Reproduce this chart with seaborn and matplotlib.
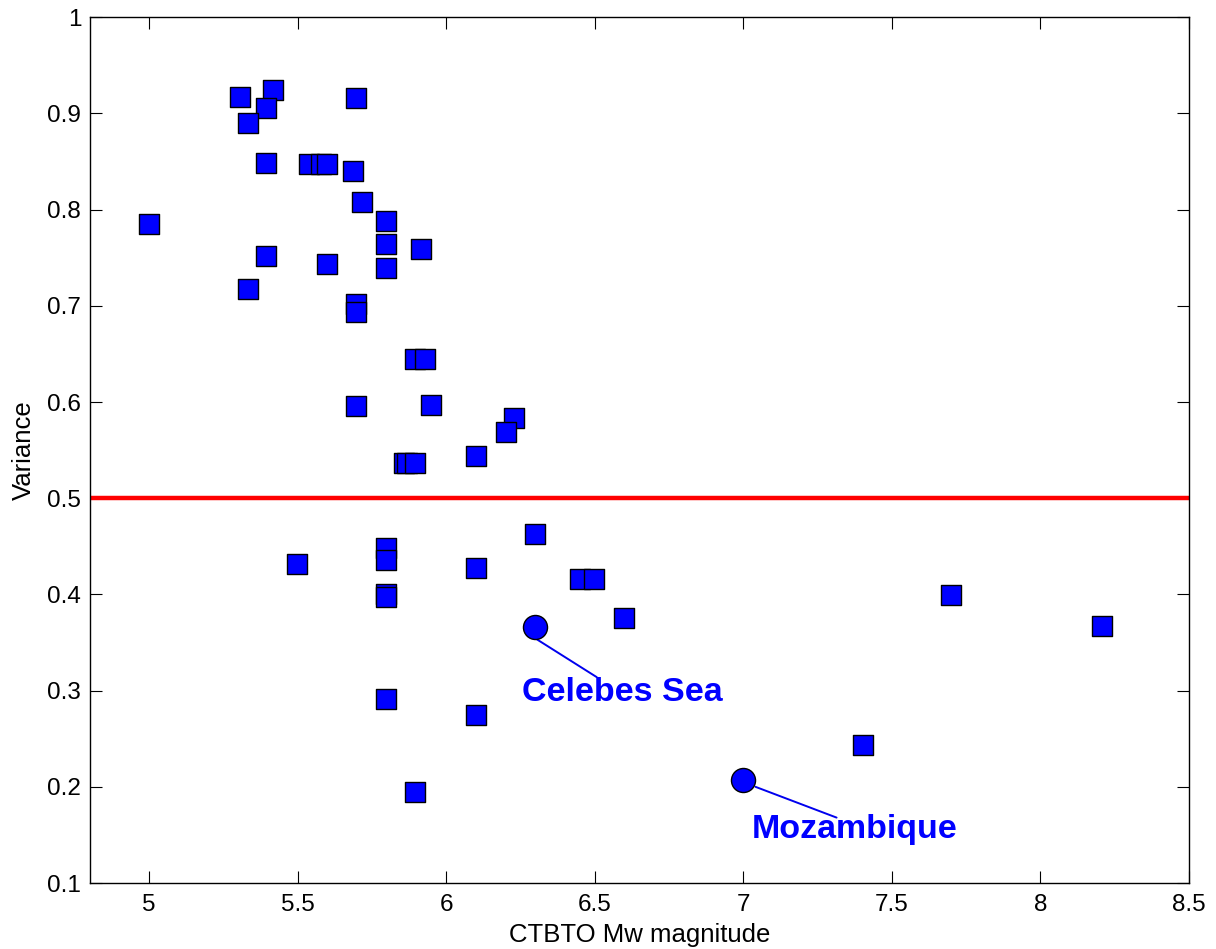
import matplotlib
matplotlib.use("Agg")
import matplotlib.pyplot as plt
import seaborn as sns
import pandas as pd

# ---- data ----
square_mag = [5.306, 5.418, 5.394, 5.334, 5.697, 5.394, 5.537, 5.578, 5.598, 5.686,
              5.717, 5.797, 5.0, 5.797, 5.917, 5.394, 5.598, 5.797, 5.334, 5.697,
              5.697, 5.896, 5.930, 5.697, 5.949, 6.227, 6.200, 6.099, 5.857, 5.869,
              5.897, 6.300, 5.498, 5.797, 5.797, 5.797, 5.797, 6.100, 6.450, 6.499,
              6.599, 5.797, 6.100, 5.896, 7.70, 8.206, 7.402]
square_var = [0.917, 0.924, 0.906, 0.890, 0.916, 0.849, 0.847, 0.847, 0.847, 0.840,
              0.808, 0.788, 0.785, 0.764, 0.759, 0.752, 0.744, 0.739, 0.718, 0.702,
              0.694, 0.645, 0.645, 0.596, 0.597, 0.583, 0.569, 0.544, 0.537, 0.537,
              0.537, 0.463, 0.432, 0.448, 0.436, 0.400, 0.397, 0.428, 0.416, 0.416,
              0.375, 0.291, 0.275, 0.195, 0.399, 0.367, 0.243]

circle_names = ["Celebes Sea", "Mozambique"]
circle_mag = [6.3, 7.0]
circle_var = [0.366, 0.207]
# annotation: text anchor (left, centre) and leader line endpoints
label_x = [6.257, 7.030]
label_y = [0.298, 0.156]
line_start_x = [6.307, 7.041]
line_start_y = [0.353, 0.200]
line_end_x = [6.507, 7.314]
line_end_y = [0.314, 0.168]

threshold = 0.5

x_ticks = [5, 5.5, 6, 6.5, 7, 7.5, 8, 8.5]
x_tick_labels = ["5", "5.5", "6", "6.5", "7", "7.5", "8", "8.5"]
y_ticks = [0.1, 0.2, 0.3, 0.4, 0.5, 0.6, 0.7, 0.8, 0.9, 1.0]
y_tick_labels = ["0.1", "0.2", "0.3", "0.4", "0.5", "0.6", "0.7", "0.8", "0.9", "1"]

sq = pd.DataFrame({"mag": square_mag, "var": square_var})
ci = pd.DataFrame({"mag": circle_mag, "var": circle_var})

sns.set_style("ticks")
plt.rcParams["font.family"] = ["Liberation Sans", "DejaVu Sans"]

fig = plt.figure(figsize=(12.16, 9.49), dpi=100)
ax = fig.add_axes([89.5 / 1216, 66 / 949, (1189 - 89.5) / 1216, (883 - 17.3) / 949])

ax.axhline(threshold, color="#FF0000", lw=3.2, zorder=1)

sns.scatterplot(data=sq, x="mag", y="var", marker="s", s=195, color="#0000FF",
                edgecolor="black", linewidth=1.0, ax=ax, zorder=3, legend=False)
sns.scatterplot(data=ci, x="mag", y="var", marker="o", s=300, color="#0000FF",
                edgecolor="black", linewidth=1.0, ax=ax, zorder=4, legend=False)

for i, name in enumerate(circle_names):
    ax.plot([line_start_x[i], line_end_x[i]], [line_start_y[i], line_end_y[i]],
            color="#0000EE", lw=1.4, zorder=2)
    ax.text(label_x[i], label_y[i], name, color="#0000FF", fontsize=24.5,
            fontweight="bold", ha="left", va="center")

ax.set_xlim(4.8, 8.5)
ax.set_ylim(0.1, 1.0)
ax.set_xticks(x_ticks)
ax.set_xticklabels(x_tick_labels)
ax.set_yticks(y_ticks)
ax.set_yticklabels(y_tick_labels)

ax.tick_params(direction="in", length=8.5, width=0.8, labelsize=17.5, colors="black",
               labelcolor="black", top=True, right=True)
ax.tick_params(axis="x", pad=8)
ax.tick_params(axis="y", pad=6)
for sp in ax.spines.values():
    sp.set_visible(True)
    sp.set_linewidth(1.0)
    sp.set_color("black")

ax.set_xlabel("CTBTO Mw magnitude", fontsize=18.5, labelpad=5, color="black")
ax.set_ylabel("Variance", fontsize=18.5, labelpad=8, color="black")

fig.savefig("out.png", dpi=100)
